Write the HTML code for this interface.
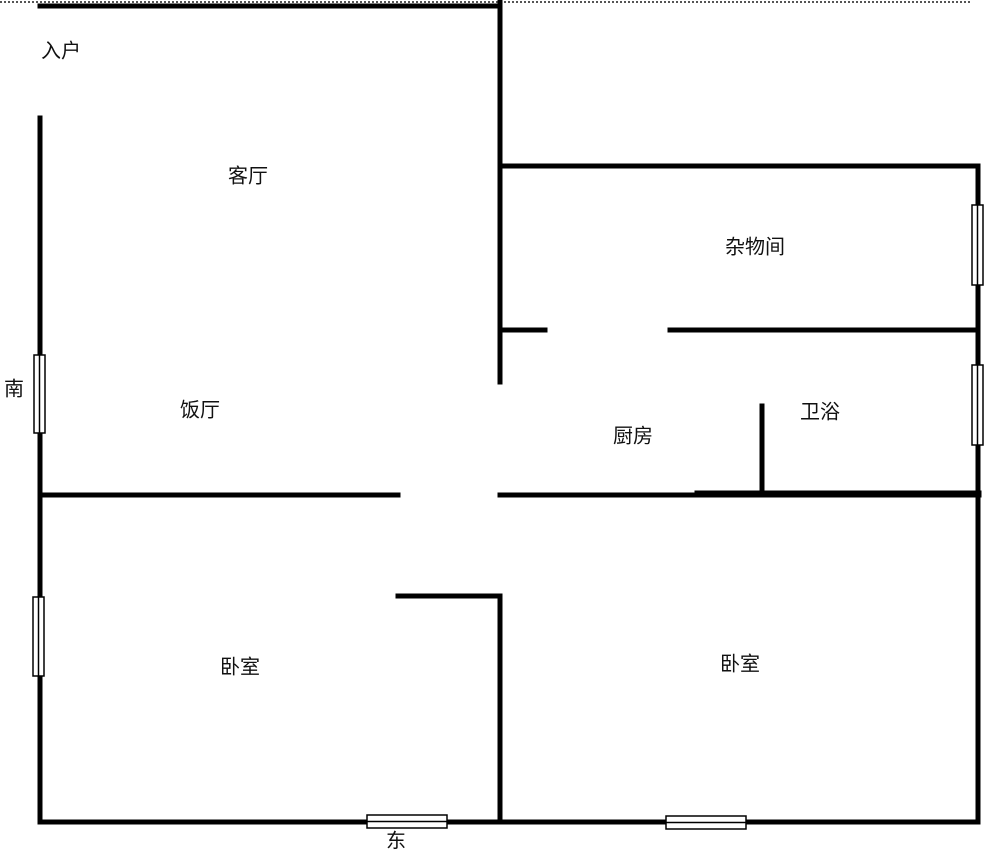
<!DOCTYPE html>
<html><head><meta charset="utf-8"><style>
html,body{margin:0;padding:0;background:#fff;}
svg{display:block}
text{font-family:"Liberation Sans","Noto Sans CJK SC",sans-serif;font-size:20px;fill:#111;text-anchor:middle;dominant-baseline:middle}
</style></head><body>
<svg width="1000" height="852" viewBox="0 0 1000 852">
<line x1="0" y1="2" x2="970" y2="2" stroke="#555" stroke-width="2" stroke-dasharray="2,2"/>
<g stroke="#000" stroke-width="5" fill="none" stroke-linecap="square">
<line x1="40" y1="6" x2="500" y2="6"/>
<line x1="500" y1="0" x2="500" y2="382"/>
<line x1="40" y1="118" x2="40" y2="822"/>
<line x1="500" y1="166" x2="978" y2="166"/>
<line x1="978" y1="166" x2="978" y2="822"/>
<line x1="500" y1="330" x2="545" y2="330"/>
<line x1="670" y1="330" x2="978" y2="330"/>
<line x1="762" y1="406" x2="762" y2="494"/>
<line x1="40" y1="495" x2="398" y2="495"/>
<line x1="500" y1="495" x2="978" y2="495"/>
<line x1="698" y1="494" x2="978" y2="494" stroke-width="7"/>
<line x1="398" y1="596" x2="500" y2="596"/>
<line x1="500" y1="596" x2="500" y2="822"/>
<line x1="40" y1="822" x2="978" y2="822"/>
</g>
<g fill="#fff" stroke="#000" stroke-width="1.5">
<rect x="34" y="355" width="11" height="78"/><line x1="39.5" y1="355" x2="39.5" y2="433"/>
<rect x="33" y="597" width="11" height="79"/><line x1="38.5" y1="597" x2="38.5" y2="676"/>
<rect x="972" y="205" width="11" height="80"/><line x1="977.5" y1="205" x2="977.5" y2="285"/>
<rect x="972" y="365" width="11" height="80"/><line x1="977.5" y1="365" x2="977.5" y2="445"/>
<rect x="367" y="815" width="80" height="13"/><line x1="367" y1="821.5" x2="447" y2="821.5"/>
<rect x="666" y="816" width="80" height="13"/><line x1="666" y1="822.5" x2="746" y2="822.5"/>
</g>
<text x="61" y="52">入户</text>
<text x="248" y="177">客厅</text>
<text x="755" y="248">杂物间</text>
<text x="14" y="390">南</text>
<text x="200" y="411">饭厅</text>
<text x="633" y="437">厨房</text>
<text x="820" y="413">卫浴</text>
<text x="240" y="668">卧室</text>
<text x="740" y="665">卧室</text>
<text x="396" y="842">东</text>
</svg>
</body></html>
